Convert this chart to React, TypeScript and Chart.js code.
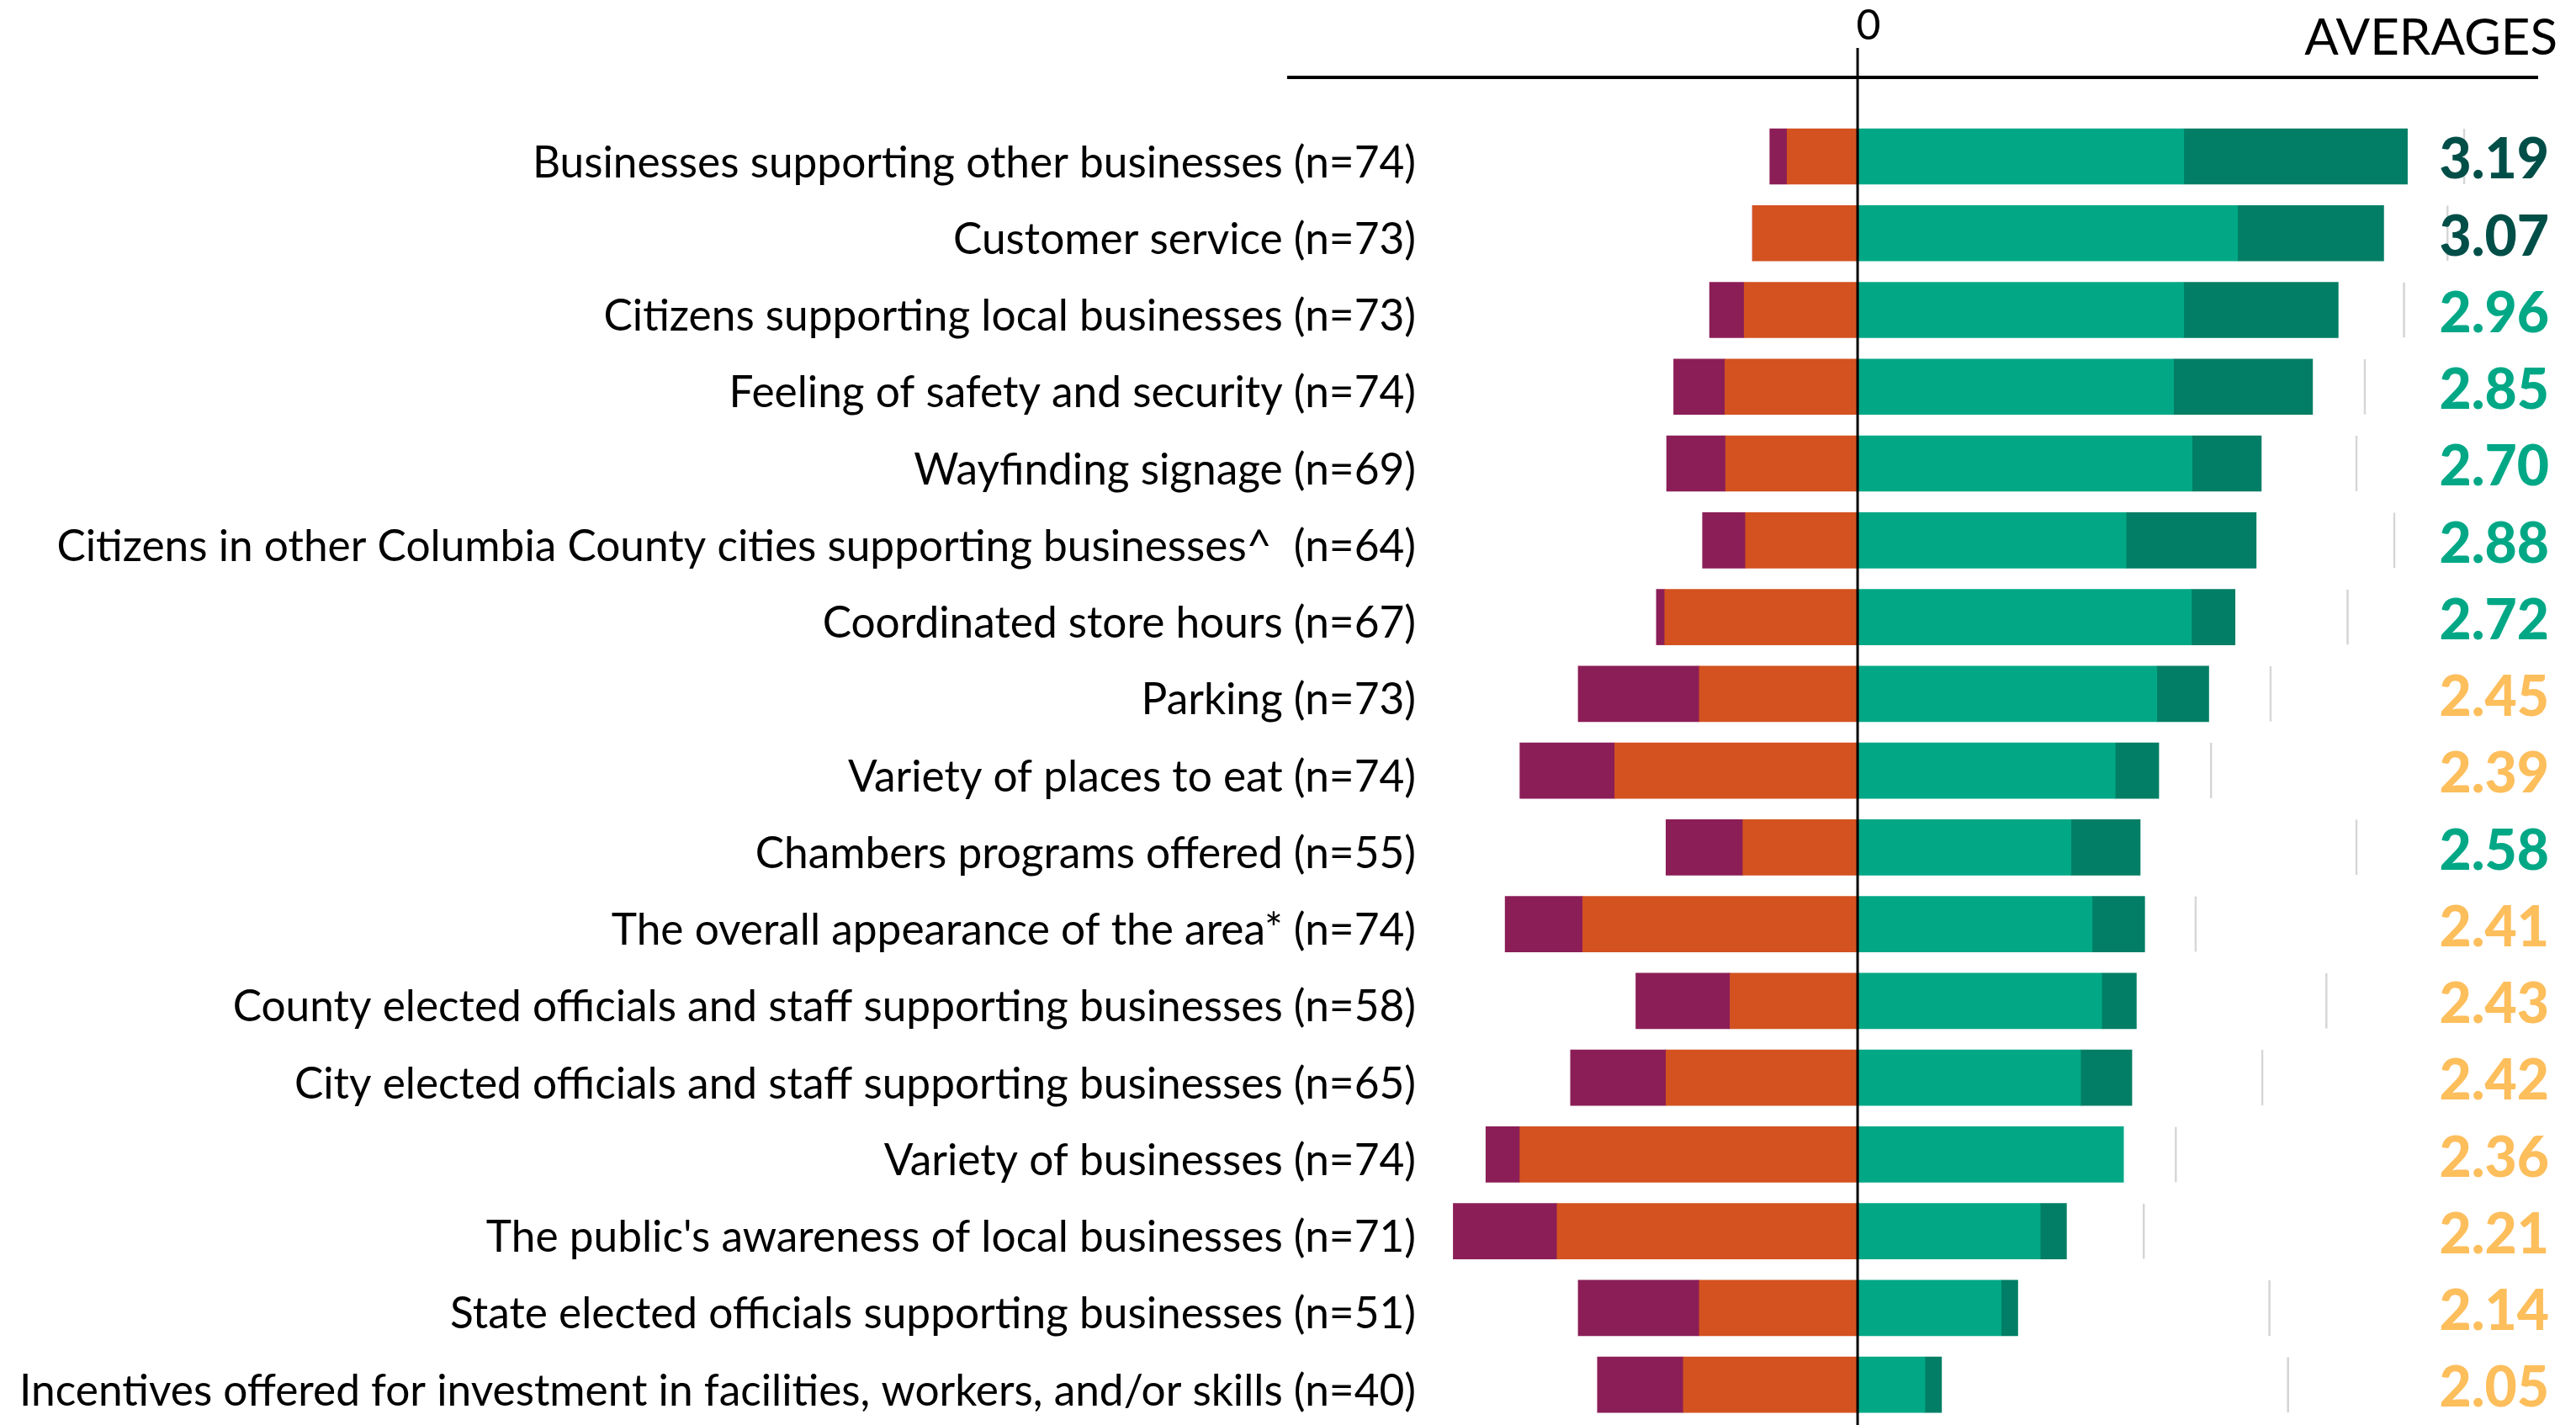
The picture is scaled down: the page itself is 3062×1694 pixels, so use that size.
import React, { useEffect, useRef } from "react";
import { Chart, registerables } from "chart.js";

Chart.register(...registerables);

const categories = [
  "Businesses supporting other businesses (n=74)",
  "Customer service (n=73)",
  "Citizens supporting local businesses (n=73)",
  "Feeling of safety and security (n=74)",
  "Wayfinding signage (n=69)",
  "Citizens in other Columbia County cities supporting businesses^  (n=64)",
  "Coordinated store hours (n=67)",
  "Parking (n=73)",
  "Variety of places to eat (n=74)",
  "Chambers programs offered (n=55)",
  "The overall appearance of the area* (n=74)",
  "County elected officials and staff supporting businesses (n=58)",
  "City elected officials and staff supporting businesses (n=65)",
  "Variety of businesses (n=74)",
  "The public's awareness of local businesses (n=71)",
  "State elected officials supporting businesses (n=51)",
  "Incentives offered for investment in facilities, workers, and/or skills (n=40)",
];

// percent of respondents per rating (1 = very poor ... 4 = excellent)
const rating1 = [2.7, 0, 5.4, 8.0, 9.2, 6.7, 1.3, 18.9, 14.8, 12.0, 12.1, 14.7, 14.9, 5.3, 16.2, 18.9, 13.4];
const rating2 = [11.0, 16.4, 17.7, 20.7, 20.6, 17.5, 30.1, 24.7, 37.9, 17.9, 42.9, 19.9, 29.9, 52.7, 46.9, 24.7, 27.2];
const rating3 = [50.9, 59.3, 50.9, 49.3, 52.2, 41.9, 52.1, 46.7, 40.2, 33.3, 36.6, 38.1, 34.8, 41.5, 28.5, 22.4, 10.5];
const rating4 = [34.9, 22.8, 24.1, 21.7, 10.8, 20.3, 6.8, 8.1, 6.8, 10.8, 8.2, 5.4, 8.0, 0, 4.1, 2.6, 2.6];
// faint reference marks to the right of each bar (percent from zero)
const refMarks = [94.8, 92.2, 85.4, 79.3, 78.0, 83.9, 76.6, 64.6, 55.3, 78.0, 52.9, 73.3, 63.3, 49.8, 44.8, 64.4, 67.3];
const averages = ["3.19", "3.07", "2.96", "2.85", "2.70", "2.88", "2.72", "2.45", "2.39", "2.58", "2.41", "2.43", "2.42", "2.36", "2.21", "2.14", "2.05"];

const axisMin = -66.7;
const axisMax = 106.2;

const FONT = "Lato";

function avgColor(v: number) {
  if (v >= 3) return "#004E48";
  if (v >= 2.5) return "#02A886";
  return "#FDBE5C";
}

const overlayPlugin = {
  id: "overlay",
  afterDatasetsDraw(chart: any) {
    const ctx = chart.ctx as CanvasRenderingContext2D;
    const x = chart.scales.x;
    const y = chart.scales.y;
    const x0 = x.getPixelForValue(0);
    ctx.save();
    // top rule
    ctx.strokeStyle = "#000";
    ctx.lineWidth = 4;
    ctx.beginPath();
    ctx.moveTo(1530, 92);
    ctx.lineTo(chart.chartArea.right, 92);
    ctx.stroke();
    // zero line
    ctx.lineWidth = 3;
    ctx.beginPath();
    ctx.moveTo(x0, 57);
    ctx.lineTo(x0, chart.height);
    ctx.stroke();
    // "0" label
    ctx.fillStyle = "#000";
    ctx.font = `400 50px ${FONT}`;
    ctx.textAlign = "center";
    ctx.textBaseline = "middle";
    ctx.fillText("0", x0 + 13, 31);
    // AVERAGES heading
    ctx.font = `400 60px ${FONT}`;
    ctx.textAlign = "right";
    ctx.fillText("AVERAGES", 3040, 46);
    // average values
    ctx.font = `900 66px ${FONT}`;
    averages.forEach((a, i) => {
      const py = y.getPixelForValue(i);
      ctx.fillStyle = avgColor(parseFloat(a));
      ctx.fillText(a, 3030, py + 5);
    });
    ctx.restore();
  },
};

export default function App() {
  const ref = useRef<HTMLCanvasElement | null>(null);
  useEffect(() => {
    document.body.style.margin = "0";
    let chart: Chart | null = null;
    let cancelled = false;
    const build = () => {
      if (cancelled || !ref.current) return;
      const gap = refMarks.map((r, i) => r - rating3[i] - rating4[i]);
      chart = new Chart(ref.current, {
        type: "bar",
        data: {
          labels: categories,
          datasets: [
            { label: "Poor", data: rating2.map((v) => -v), backgroundColor: "#D35220" },
            { label: "Very poor", data: rating1.map((v) => -v), backgroundColor: "#8B1E57" },
            { label: "Good", data: rating3, backgroundColor: "#02A886" },
            { label: "Excellent", data: rating4, backgroundColor: "#017E65" },
            {
              label: "ref",
              data: gap,
              backgroundColor: "rgba(0,0,0,0)",
              borderColor: "#d6d6d6",
              borderWidth: { top: 0, bottom: 0, left: 0, right: 2 } as any,
              borderSkipped: false,
            },
          ],
        },
        options: {
          indexAxis: "y",
          responsive: false,
          animation: false,
          devicePixelRatio: 1,
          layout: { padding: { left: 0, right: 45, top: 186, bottom: 36 } },
          datasets: { bar: { barThickness: 66, clip: false as any, borderWidth: 0 } },
          plugins: { legend: { display: false }, tooltip: { enabled: false } },
          scales: {
            x: { type: "linear", stacked: true, min: axisMin, max: axisMax, display: false },
            y: {
              type: "category",
              stacked: true,
              offset: false,
              grid: { display: false, drawTicks: false },
              border: { display: false },
              ticks: {
                autoSkip: false,
                padding: 17,
                labelOffset: 8,
                color: "#000",
                font: { family: FONT, size: 51.4, weight: "normal" as any },
              },
              afterFit: (scale: any) => {
                scale.width = 1700;
              },
            },
          },
        },
        plugins: [overlayPlugin],
      });
    };
    const fontsReady = (document as any).fonts
      ? Promise.all([
          (document as any).fonts.load(`52px ${FONT}`),
          (document as any).fonts.load(`900 66px ${FONT}`),
          (document as any).fonts.load(`400 50px ${FONT}`),
        ]).catch(() => null)
      : Promise.resolve(null);
    fontsReady.then(build);
    return () => {
      cancelled = true;
      if (chart) chart.destroy();
    };
  }, []);
  return <canvas ref={ref} width={3062} height={1694} style={{ display: "block" }} />;
}
